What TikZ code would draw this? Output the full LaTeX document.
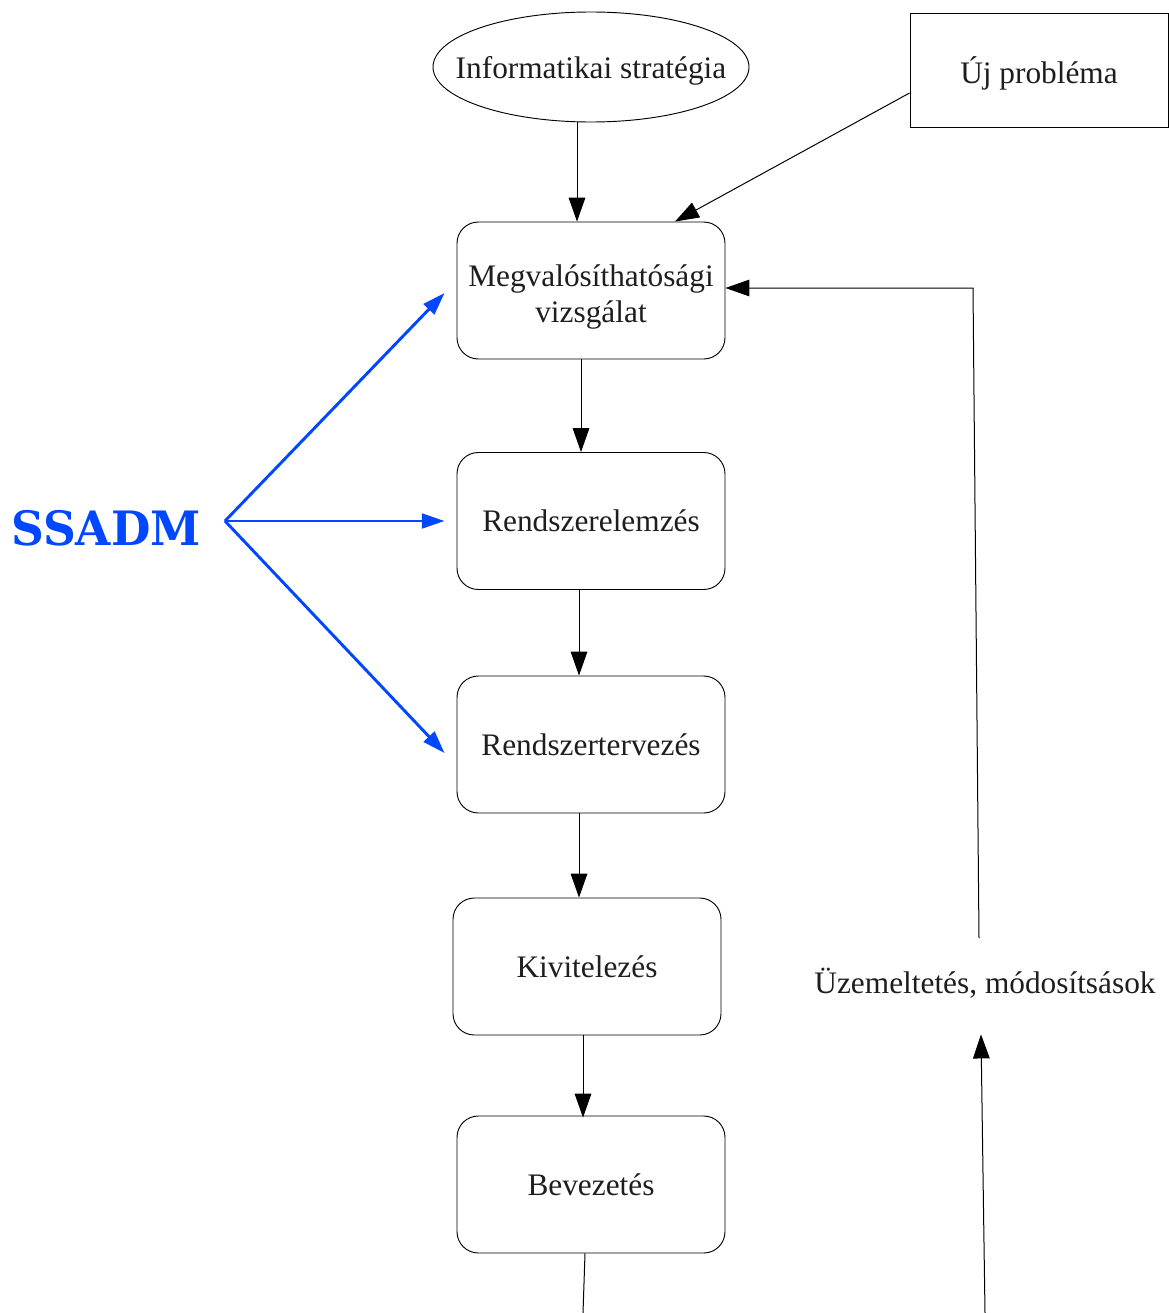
\documentclass[tikz,border=0pt]{standalone}
\usepackage{fontspec}
\setmainfont{Liberation Serif}
\newfontfamily\ssadmfont[FakeStretch=0.96]{DejaVu Serif}
\usetikzlibrary{arrows.meta,shapes.geometric}
\definecolor{ssblue}{HTML}{0047FF}
\definecolor{ink}{HTML}{1E1E1E}
\tikzset{
  txt/.style={font=\fontsize{23.5}{27}\selectfont, text=ink},
  stage/.style={draw, line width=0.7pt, rounded corners=16pt, minimum width=201pt,
    minimum height=102.75pt, inner sep=2pt, align=center, txt},
  flow/.style={line width=0.75pt, -{Triangle[length=18pt,width=12.5pt]}},
  plain/.style={line width=0.75pt},
  ssarrow/.style={ssblue, line width=2.2pt, -{Triangle[length=17pt,width=11pt]}},
}
\begin{document}
\begin{tikzpicture}[x=0.75pt,y=-0.75pt]
\useasboundingbox (0,0) rectangle (1169,1313);

% sources
\node[draw, ellipse, line width=0.7pt, minimum width=237pt, minimum height=82.5pt, inner sep=0pt,
  label={[txt, yshift=-3pt]center:Informatikai stratégia}] (info) at (591,67) {};
\node[draw, line width=0.7pt, minimum width=193.5pt, minimum height=85.5pt, inner sep=0pt,
  label={[txt, yshift=-2.5pt]center:Új probléma}] (uj) at (1039,70) {};

% life-cycle stages
\node[stage, label={[txt, align=center, yshift=-4.5pt]center:Megvalósíthatósági\\vizsgálat}] (b1) at (591,290.5) {};
\node[stage] (b2) at (591,521) {Rendszerelemzés};
\node[stage] (b3) at (591,744.5) {Rendszertervezés};
\node[stage] (b4) at (587,966.5) {Kivitelezés};
\node[stage] (b5) at (591,1184.5) {Bevezetés};

% operation / feedback label
\node[minimum height=72.75pt, inner sep=0pt, txt] (op) at (985,983)
  {Üzemeltetés, módosítsások};
\coordinate (corner) at (973,288);
\coordinate (opbot) at (985,1313);
\coordinate (b5end) at (583,1313);

% SSADM
\node[text=ssblue, font=\ssadmfont\bfseries\fontsize{35.5}{40}\selectfont, inner sep=0pt] (ssadm) at (106,528) {SSADM};
\coordinate (hub) at (225,521);

% connectors
\draw[flow] ([xshift=-10.5pt]info.south) -- ([xshift=-10.5pt]b1.north);
\draw[flow] ([yshift=-17.25pt]uj.west) -- ([xshift=63pt]b1.north);
\draw[flow] ([xshift=-7.5pt]b1.south) -- ([xshift=-7.5pt]b2.north);
\draw[flow] ([xshift=-9pt]b2.south) -- ([xshift=-9pt]b3.north);
\draw[flow] ([xshift=-9pt]b3.south) -- ([xshift=-6pt]b4.north);
\draw[flow] ([xshift=-3pt]b4.south) -- ([xshift=-6pt,yshift=-1.5pt]b5.north);
\draw[plain] ([xshift=-4.5pt]b5.south) -- (b5end);
\draw[flow] (opbot) -- ([xshift=-3pt,yshift=-2pt]op.south);
\draw[flow] ([xshift=-4.5pt,yshift=-3pt]op.north) -- (corner) -- (corner -| b1.east);

\draw[ssarrow] (hub) -- ([xshift=-9pt,yshift=-1.9pt]b1.west);
\draw[ssarrow] (hub) -- ([xshift=-9pt]b2.west);
\draw[ssarrow] (hub) -- ([xshift=-9pt,yshift=-6.4pt]b3.west);
\end{tikzpicture}
\end{document}
